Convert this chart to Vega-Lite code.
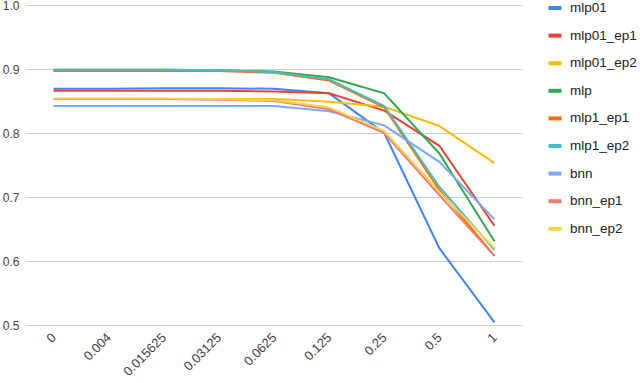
{
  "$schema": "https://vega.github.io/schema/vega-lite/v6.json",
  "width": 496,
  "height": 320,
  "autosize": {"type": "none"},
  "padding": {"left": 26, "top": 5, "right": 118, "bottom": 58},
  "background": "white",
  "config": {"view": {"stroke": null}, "font": "Liberation Sans"},
  "data": {"values": [
    {"x": "0", "s": "mlp01", "v": 0.869}, {"x": "0.004", "s": "mlp01", "v": 0.869}, {"x": "0.015625", "s": "mlp01", "v": 0.870}, {"x": "0.03125", "s": "mlp01", "v": 0.870}, {"x": "0.0625", "s": "mlp01", "v": 0.869}, {"x": "0.125", "s": "mlp01", "v": 0.862}, {"x": "0.25", "s": "mlp01", "v": 0.800}, {"x": "0.5", "s": "mlp01", "v": 0.620}, {"x": "1", "s": "mlp01", "v": 0.504},
    {"x": "0", "s": "mlp01_ep1", "v": 0.866}, {"x": "0.004", "s": "mlp01_ep1", "v": 0.866}, {"x": "0.015625", "s": "mlp01_ep1", "v": 0.866}, {"x": "0.03125", "s": "mlp01_ep1", "v": 0.866}, {"x": "0.0625", "s": "mlp01_ep1", "v": 0.865}, {"x": "0.125", "s": "mlp01_ep1", "v": 0.862}, {"x": "0.25", "s": "mlp01_ep1", "v": 0.835}, {"x": "0.5", "s": "mlp01_ep1", "v": 0.780}, {"x": "1", "s": "mlp01_ep1", "v": 0.655},
    {"x": "0", "s": "mlp01_ep2", "v": 0.853}, {"x": "0.004", "s": "mlp01_ep2", "v": 0.853}, {"x": "0.015625", "s": "mlp01_ep2", "v": 0.853}, {"x": "0.03125", "s": "mlp01_ep2", "v": 0.853}, {"x": "0.0625", "s": "mlp01_ep2", "v": 0.853}, {"x": "0.125", "s": "mlp01_ep2", "v": 0.849}, {"x": "0.25", "s": "mlp01_ep2", "v": 0.841}, {"x": "0.5", "s": "mlp01_ep2", "v": 0.811}, {"x": "1", "s": "mlp01_ep2", "v": 0.753},
    {"x": "0", "s": "mlp", "v": 0.899}, {"x": "0.004", "s": "mlp", "v": 0.899}, {"x": "0.015625", "s": "mlp", "v": 0.899}, {"x": "0.03125", "s": "mlp", "v": 0.898}, {"x": "0.0625", "s": "mlp", "v": 0.896}, {"x": "0.125", "s": "mlp", "v": 0.887}, {"x": "0.25", "s": "mlp", "v": 0.862}, {"x": "0.5", "s": "mlp", "v": 0.768}, {"x": "1", "s": "mlp", "v": 0.631},
    {"x": "0", "s": "mlp1_ep1", "v": 0.897}, {"x": "0.004", "s": "mlp1_ep1", "v": 0.897}, {"x": "0.015625", "s": "mlp1_ep1", "v": 0.897}, {"x": "0.03125", "s": "mlp1_ep1", "v": 0.897}, {"x": "0.0625", "s": "mlp1_ep1", "v": 0.894}, {"x": "0.125", "s": "mlp1_ep1", "v": 0.882}, {"x": "0.25", "s": "mlp1_ep1", "v": 0.840}, {"x": "0.5", "s": "mlp1_ep1", "v": 0.711}, {"x": "1", "s": "mlp1_ep1", "v": 0.608},
    {"x": "0", "s": "mlp1_ep2", "v": 0.899}, {"x": "0.004", "s": "mlp1_ep2", "v": 0.899}, {"x": "0.015625", "s": "mlp1_ep2", "v": 0.899}, {"x": "0.03125", "s": "mlp1_ep2", "v": 0.898}, {"x": "0.0625", "s": "mlp1_ep2", "v": 0.895}, {"x": "0.125", "s": "mlp1_ep2", "v": 0.884}, {"x": "0.25", "s": "mlp1_ep2", "v": 0.842}, {"x": "0.5", "s": "mlp1_ep2", "v": 0.716}, {"x": "1", "s": "mlp1_ep2", "v": 0.617},
    {"x": "0", "s": "bnn", "v": 0.842}, {"x": "0.004", "s": "bnn", "v": 0.842}, {"x": "0.015625", "s": "bnn", "v": 0.842}, {"x": "0.03125", "s": "bnn", "v": 0.842}, {"x": "0.0625", "s": "bnn", "v": 0.842}, {"x": "0.125", "s": "bnn", "v": 0.834}, {"x": "0.25", "s": "bnn", "v": 0.812}, {"x": "0.5", "s": "bnn", "v": 0.755}, {"x": "1", "s": "bnn", "v": 0.665},
    {"x": "0", "s": "bnn_ep1", "v": 0.853}, {"x": "0.004", "s": "bnn_ep1", "v": 0.853}, {"x": "0.015625", "s": "bnn_ep1", "v": 0.853}, {"x": "0.03125", "s": "bnn_ep1", "v": 0.852}, {"x": "0.0625", "s": "bnn_ep1", "v": 0.850}, {"x": "0.125", "s": "bnn_ep1", "v": 0.837}, {"x": "0.25", "s": "bnn_ep1", "v": 0.800}, {"x": "0.5", "s": "bnn_ep1", "v": 0.703}, {"x": "1", "s": "bnn_ep1", "v": 0.608},
    {"x": "0", "s": "bnn_ep2", "v": 0.854}, {"x": "0.004", "s": "bnn_ep2", "v": 0.854}, {"x": "0.015625", "s": "bnn_ep2", "v": 0.854}, {"x": "0.03125", "s": "bnn_ep2", "v": 0.853}, {"x": "0.0625", "s": "bnn_ep2", "v": 0.851}, {"x": "0.125", "s": "bnn_ep2", "v": 0.840}, {"x": "0.25", "s": "bnn_ep2", "v": 0.803}, {"x": "0.5", "s": "bnn_ep2", "v": 0.708}, {"x": "1", "s": "bnn_ep2", "v": 0.620}
  ]},
  "mark": {"type": "line", "strokeWidth": 2, "interpolate": "linear"},
  "encoding": {
    "x": {
      "field": "x", "type": "ordinal",
      "sort": ["0", "0.004", "0.015625", "0.03125", "0.0625", "0.125", "0.25", "0.5", "1"],
      "scale": {"type": "point", "padding": 0.5},
      "axis": {"title": null, "domain": false, "ticks": false, "grid": false, "labelAngle": -45, "labelAlign": "right", "labelBaseline": "middle", "labelPadding": 10, "labelFontSize": 13, "labelColor": "#444444"}
    },
    "y": {
      "field": "v", "type": "quantitative",
      "scale": {"domain": [0.5, 1.0], "nice": false, "zero": false},
      "axis": {"title": null, "domain": false, "ticks": false, "values": [0.5, 0.6, 0.7, 0.8, 0.9, 1.0], "format": ".1f", "gridColor": "#cccccc", "gridWidth": 1, "labelPadding": 7, "labelFontSize": 12, "labelColor": "#444444"}
    },
    "color": {
      "field": "s", "type": "nominal",
      "scale": {
        "domain": ["mlp01", "mlp01_ep1", "mlp01_ep2", "mlp", "mlp1_ep1", "mlp1_ep2", "bnn", "bnn_ep1", "bnn_ep2"],
        "range": ["#4285F4", "#EA4335", "#FBBC04", "#34A853", "#FF6D01", "#46BDC6", "#7BAAF7", "#F07B72", "#FCD04F"]
      },
      "legend": {"title": null, "orient": "none", "legendX": 520, "legendY": -6, "symbolType": "stroke", "symbolSize": 170, "symbolStrokeWidth": 4, "labelFontSize": 13.5, "labelColor": "#222222", "rowPadding": 10.6, "labelOffset": 6}
    }
  }
}
